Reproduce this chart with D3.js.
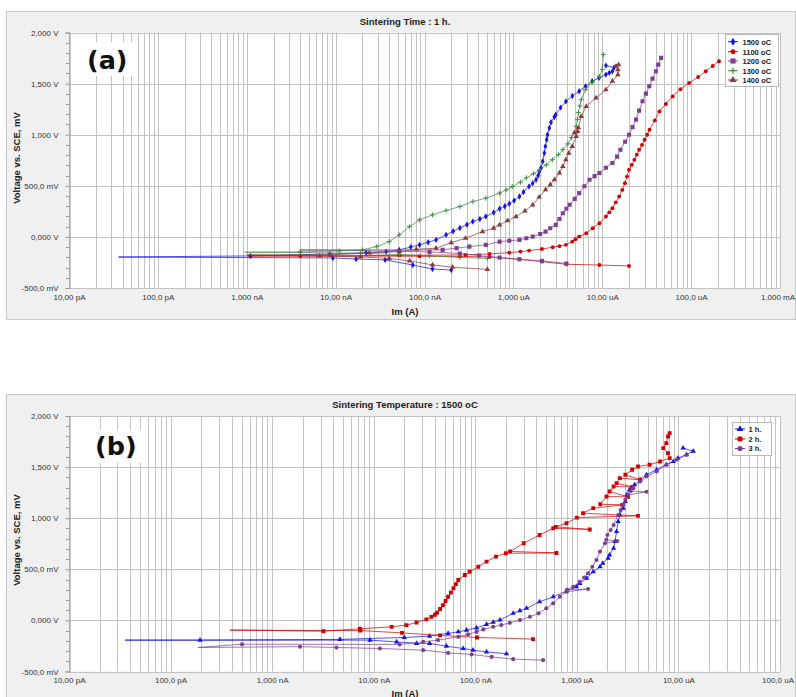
<!DOCTYPE html>
<html>
<head>
<meta charset="utf-8">
<script src="https://cdn.jsdelivr.net/npm/d3@7"></script>
<style>
  body { margin: 0; background: #fff; }
  svg { display: block; font-family: "Liberation Sans", Arial, sans-serif; }
</style>
</head>
<body>
<svg id="chart" width="796" height="697"></svg>
<script>
// ---------- axis labels ----------
const xTickLabelsA = ["10,00 pA", "100,0 pA", "1,000 nA", "10,00 nA", "100,0 nA", "1,000 uA", "10,00 uA", "100,0 uA", "1,000 mA"];
const xTickLabelsB = ["10,00 pA", "100,0 pA", "1,000 nA", "10,00 nA", "100,0 nA", "1,000 uA", "10,00 uA", "100,0 uA"];
const yTickValues = [-500, 0, 500, 1000, 1500, 2000];
const yTickLabels = ["-500,0 mV", "0,000 V", "500,0 mV", "1,000 V", "1,500 V", "2,000 V"];

// ---------- series names ----------
const namesA = ["1500 oC", "1100 oC", "1200 oC", "1300 oC", "1400 oC"];
const namesB = ["1 h.", "2 h.", "3 h."];

// ---------- polarization scans: [current (A), potential (mV)] ----------
// (a) sintering time 1 h
const a1500 = [
  [2.0e-7, -325], [1.23e-7, -314], [7.4e-8, -275], [3.6e-8, -225], [1.7e-8, -216], [9.3e-9, -206], [3.6e-11, -197],
  [1.1e-9, -186], [8.6e-9, -167], [2.2e-8, -155], [3.7e-8, -144], [5.2e-8, -127], [7.0e-8, -100], [8.8e-8, -78],
  [1.1e-7, -52], [1.35e-7, -29], [1.75e-7, 20], [2.1e-7, 55], [2.5e-7, 88], [3.0e-7, 120], [3.5e-7, 150],
  [4.2e-7, 175], [4.9e-7, 199], [6.0e-7, 238], [7.0e-7, 275], [8.0e-7, 300], [9.0e-7, 324], [1.02e-6, 355],
  [1.17e-6, 395], [1.3e-6, 440], [1.5e-6, 493], [1.65e-6, 525], [1.8e-6, 559], [1.9e-6, 600], [1.96e-6, 640],
  [2.05e-6, 674], [2.14e-6, 739], [2.23e-6, 821], [2.29e-6, 886], [2.37e-6, 951], [2.42e-6, 1000],
  [2.54e-6, 1065], [2.65e-6, 1121], [2.89e-6, 1173], [3.0e-6, 1196], [3.4e-6, 1265], [3.9e-6, 1326],
  [4.6e-6, 1378], [5.5e-6, 1425], [6.5e-6, 1475], [7.7e-6, 1523], [9.2e-6, 1556], [1.1e-5, 1588],
  [1.2e-5, 1605], [1.3e-5, 1621], [1.36e-5, 1657], [1.1e-5, 1676]
];
const a1100 = [
  [2.0e-5, -284], [9.3e-6, -275], [3.95e-6, -268], [2.1e-6, -242], [1.17e-6, -219], [5.4e-7, -196], [2.5e-7, -191],
  [8.8e-8, -189], [1.03e-9, -186],
  [4.0e-9, -186], [5.2e-8, -181], [2.9e-7, -176], [5.4e-7, -167], [9.0e-7, -154], [1.2e-6, -144], [1.5e-6, -134],
  [2.1e-6, -118], [2.77e-6, -101], [3.3e-6, -90], [3.9e-6, -78], [4.6e-6, -46], [5.0e-6, -22], [5.5e-6, 3],
  [6.6e-6, 36], [7.8e-6, 85], [9.3e-6, 134], [1.1e-5, 199], [1.2e-5, 240], [1.3e-5, 281], [1.42e-5, 338],
  [1.55e-5, 395], [1.68e-5, 460], [1.8e-5, 526], [1.9e-5, 590], [2.0e-5, 657], [2.15e-5, 705], [2.3e-5, 755],
  [2.45e-5, 805], [2.6e-5, 853], [2.8e-5, 900], [3.0e-5, 951], [3.2e-5, 1000], [3.4e-5, 1049], [3.9e-5, 1140],
  [4.4e-5, 1228], [5.2e-5, 1300], [6.2e-5, 1375], [7.6e-5, 1445], [9.5e-5, 1507], [1.2e-4, 1565],
  [1.46e-4, 1621], [1.75e-4, 1672], [2.06e-4, 1719]
];
const a1200 = [
  [3.95e-6, -260], [2.1e-6, -235], [1.17e-6, -219], [7.0e-7, -203], [4.1e-7, -183], [2.5e-7, -162], [1.14e-7, -147],
  [5.2e-8, -140], [4.0e-9, -127],
  [1.6e-7, -127], [2.3e-7, -110], [3.2e-7, -95], [4.9e-7, -78], [7.0e-7, -46], [9.0e-7, -38], [1.17e-6, -29],
  [1.4e-6, -13], [1.65e-6, 3], [2.0e-6, 28], [2.3e-6, 52], [2.6e-6, 85], [3.0e-6, 118], [3.3e-6, 175],
  [3.6e-6, 232], [3.95e-6, 275], [4.3e-6, 314], [4.9e-6, 372], [5.5e-6, 428], [6.3e-6, 495], [7.2e-6, 559],
  [8.2e-6, 595], [9.3e-6, 625], [1.1e-5, 676], [1.3e-5, 723], [1.47e-5, 785], [1.6e-5, 853], [1.81e-5, 931],
  [2.0e-5, 1000], [2.19e-5, 1074], [2.4e-5, 1147], [2.6e-5, 1235], [2.84e-5, 1327], [3.1e-5, 1402],
  [3.38e-5, 1474], [3.68e-5, 1549], [4.02e-5, 1621], [4.27e-5, 1686], [4.6e-5, 1752]
];
const a1300 = [
  [5.1e-7, -211], [2.5e-7, -201], [1.14e-7, -186], [5.2e-8, -172], [1.9e-8, -162], [4.0e-9, -152], [9.5e-10, -150],
  [4.0e-9, -147], [1.1e-8, -137], [2.0e-8, -127], [2.9e-8, -95], [4.0e-8, -46], [5.2e-8, 20], [6.8e-8, 101],
  [8.8e-8, 167], [1.23e-7, 216], [1.75e-7, 258], [2.5e-7, 297], [3.5e-7, 346], [4.9e-7, 379], [7.0e-7, 428],
  [8.3e-7, 460], [9.7e-7, 493], [1.2e-6, 535], [1.4e-6, 578], [1.68e-6, 618], [1.96e-6, 657], [2.35e-6, 705],
  [2.75e-6, 755], [3.2e-6, 805], [3.6e-6, 853], [4.1e-6, 910], [4.5e-6, 971], [5.1e-6, 1081], [5.25e-6, 1150],
  [5.4e-6, 1216], [5.6e-6, 1280], [5.8e-6, 1343], [6.5e-6, 1441], [7.7e-6, 1510], [9.3e-6, 1569],
  [1.0e-5, 1637], [1.03e-5, 1784]
];
const a1400 = [
  [5.1e-7, -317], [2.07e-7, -297], [1.23e-7, -274], [6.8e-8, -235], [4.0e-8, -211], [1.9e-8, -196], [6.6e-9, -186],
  [1.0e-9, -176],
  [8.6e-9, -176], [2.4e-8, -157], [5.2e-8, -144], [8.1e-8, -121], [1.35e-7, -111], [2.0e-7, -56], [2.9e-7, -13],
  [4.5e-7, 52], [6.0e-7, 85], [7.0e-7, 118], [8.6e-7, 158], [1.07e-6, 199], [1.35e-6, 255], [1.65e-6, 314],
  [1.95e-6, 390], [2.3e-6, 461], [2.6e-6, 510], [2.9e-6, 559], [3.3e-6, 625], [3.6e-6, 690], [3.9e-6, 755],
  [4.2e-6, 820], [4.6e-6, 885], [5.1e-6, 983], [5.3e-6, 1032], [4.85e-6, 1017], [5.4e-6, 1069], [5.8e-6, 1179],
  [6.6e-6, 1277], [8.5e-6, 1360], [1.1e-5, 1441], [1.3e-5, 1523], [1.5e-5, 1588], [1.5e-5, 1637],
  [1.43e-5, 1670], [1.53e-5, 1686]
];

// (b) sintering temperature 1500 oC
const b1h = [
  [2.03e-7, -326], [1.29e-7, -308], [9.5e-8, -291], [7.6e-8, -275], [5.2e-8, -252], [3.55e-8, -225], [2.64e-8, -225],
  [1.68e-8, -210], [9.2e-9, -193], [3.56e-11, -193],
  [1.95e-10, -193], [4.65e-9, -186], [2.0e-8, -167], [3.55e-8, -154], [5.4e-8, -127], [6.8e-8, -112], [8.2e-8, -95],
  [1.03e-7, -73], [1.29e-7, -39], [1.5e-7, -18], [1.75e-7, 3], [2.36e-7, 69], [2.75e-7, 95], [3.2e-7, 118],
  [4.3e-7, 182], [5.85e-7, 231], [7.9e-7, 287], [9.9e-7, 329], [1.07e-6, 362], [1.25e-6, 412], [1.45e-6, 476],
  [1.69e-6, 525], [1.8e-6, 559], [2.03e-6, 608], [2.1e-6, 640], [2.3e-6, 706], [2.37e-6, 771], [2.46e-6, 869],
  [2.55e-6, 967], [2.65e-6, 1032], [2.86e-6, 1098], [3.0e-6, 1163], [3.1e-6, 1228], [3.3e-6, 1278],
  [3.7e-6, 1327], [4.2e-6, 1376], [4.85e-6, 1425], [6.1e-6, 1474], [7.6e-6, 1523], [8.9e-6, 1555],
  [9.9e-6, 1588], [1.2e-5, 1621], [1.4e-5, 1655], [1.11e-5, 1686]
];
const b2h = [
  [3.7e-7, -183], [1.04e-7, -167], [4.5e-8, -147], [1.9e-8, -122], [7.4e-9, -100], [3.84e-10, -95],
  [3.2e-9, -105], [7.3e-9, -82], [1.5e-8, -63], [2.1e-8, -46], [2.64e-8, -20], [3.3e-8, 10], [3.7e-8, 35],
  [4.0e-8, 55], [4.2e-8, 75], [4.5e-8, 112], [4.8e-8, 150], [5.1e-8, 190], [5.4e-8, 231], [5.75e-8, 272],
  [6.1e-8, 314], [6.45e-8, 355], [6.8e-8, 395], [7.9e-8, 444], [8.8e-8, 476], [1.07e-7, 525], [1.29e-7, 575],
  [1.6e-7, 624], [2.0e-7, 657], [6.3e-7, 660], [2.2e-7, 675], [3.0e-7, 755], [4.3e-7, 836], [5.85e-7, 902],
  [1.34e-6, 890], [6.2e-7, 915], [7.9e-7, 951], [1.0e-6, 1006], [4.0e-6, 1023], [1.15e-6, 1049],
  [1.45e-6, 1098], [2.8e-6, 1130], [1.7e-6, 1137], [1.96e-6, 1212], [3.2e-6, 1209], [2.1e-6, 1261],
  [2.3e-6, 1310], [3.5e-6, 1307], [2.46e-6, 1343], [2.65e-6, 1392], [4.2e-6, 1376], [3.0e-6, 1425],
  [3.5e-6, 1474], [4.0e-6, 1506], [5.2e-6, 1523], [6.6e-6, 1555], [8.2e-6, 1588], [7.9e-6, 1637],
  [7.1e-6, 1686], [7.6e-6, 1735], [7.9e-6, 1800], [8.2e-6, 1833]
];
const b3h = [
  [4.66e-7, -389], [2.36e-7, -379], [1.45e-7, -357], [9.2e-8, -333], [5.4e-8, -318], [3.07e-8, -291], [1.15e-8, -275],
  [4.3e-9, -265], [1.88e-9, -257], [1.87e-10, -265],
  [5.05e-10, -233], [1.8e-8, -235], [3.07e-8, -210], [4.3e-8, -193], [6.8e-8, -161], [8.5e-8, -137], [1.03e-7, -112],
  [1.2e-7, -88], [1.5e-7, -63], [1.8e-7, -46], [2.19e-7, -24], [2.75e-7, 3], [3.45e-7, 35], [4.2e-7, 69],
  [5.0e-7, 118], [5.85e-7, 167], [6.8e-7, 231], [7.9e-7, 280], [1.29e-6, 307], [8.0e-7, 300], [9.2e-7, 329],
  [1.07e-6, 378], [1.18e-6, 420], [1.29e-6, 461], [1.42e-6, 525], [1.56e-6, 591], [1.69e-6, 673], [1.89e-6, 755],
  [2.5e-6, 777], [1.95e-6, 790], [2.0e-6, 836], [2.15e-6, 885], [2.3e-6, 934], [2.55e-6, 1032], [2.7e-6, 1080],
  [2.86e-6, 1130], [3.0e-6, 1180], [3.2e-6, 1228], [4.85e-6, 1258], [3.4e-6, 1265], [3.6e-6, 1294],
  [4.2e-6, 1359], [4.85e-6, 1408], [6.1e-6, 1457], [7.6e-6, 1523], [9.6e-6, 1572], [1.2e-5, 1621]
];

// ---------- marker shapes ----------
const shapes = {
  diamond: d3.symbol().type(d3.symbolDiamond).size(12)(),
  circle: d3.symbol().type(d3.symbolCircle).size(12)(),
  square: d3.symbol().type(d3.symbolSquare).size(17)(),
  triangle: d3.symbol().type(d3.symbolTriangle).size(13)(),
  plus: "M-2.5,0H2.5M0,-2.5V2.5",
  squareB: d3.symbol().type(d3.symbolSquare).size(15)(),
  circleB: d3.symbol().type(d3.symbolCircle).size(13)(),
  triangleB: d3.symbol().type(d3.symbolTriangle).size(12)()
};

const panels = [
  {
    frameTop: 11, frameH: 308, plotTop: 32.5, plotBottom: 288,
    xDomain: [1e-11, 1e-3], xLabels: xTickLabelsA,
    title: "Sintering Time : 1 h.", titleY: 24.5, axisTitleY: 314.5, yTitleY: 158,
    tag: "(a)", tagX: 87, tagY: 68.5, tagBox: [80, 42, 55, 34],
    legend: { x: 725.5, y: 34.5, w: 53, h: 52, rowY: [41.7, 51.7, 61, 70.7, 80], lx: 728, mx: 733, tx: 742.5 },
    series: [
      { name: namesA[0], data: a1500, color: "#1414e6", shape: "diamond" },
      { name: namesA[1], data: a1100, color: "#d40000", shape: "circle" },
      { name: namesA[2], data: a1200, color: "#7e3e94", shape: "square" },
      { name: namesA[3], data: a1300, color: "#3f8f3f", shape: "plus" },
      { name: namesA[4], data: a1400, color: "#8b3a3a", shape: "triangle" }
    ]
  },
  {
    frameTop: 394, frameH: 320, plotTop: 416, plotBottom: 671.5,
    xDomain: [1e-11, 1e-4], xLabels: xTickLabelsB,
    title: "Sintering Temperature : 1500 oC", titleY: 407.5, axisTitleY: 696.5, yTitleY: 540,
    tag: "(b)", tagX: 95, tagY: 454.5, tagBox: [89, 430, 54, 33],
    legend: { x: 732.5, y: 422.5, w: 39, h: 33, rowY: [429, 439, 448.5], lx: 735, mx: 740, tx: 748.5 },
    series: [
      { name: namesB[0], data: b1h, color: "#1212e8", shape: "triangleB" },
      { name: namesB[1], data: b2h, color: "#d00000", shape: "squareB" },
      { name: namesB[2], data: b3h, color: "#7e3e90", shape: "circleB" }
    ]
  }
];

const svg = d3.select("#chart");
const crisp = v => Math.round(v) + 0.5;

panels.forEach((p, pi) => {
  const g = svg.append("g");
  const x = d3.scaleLog().domain(p.xDomain).range([69, 780]);
  const y = d3.scaleLinear().domain([-500, 2000]).range([p.plotBottom, p.plotTop]);

  // outer frame
  g.append("rect")
    .attr("x", 6.5).attr("y", p.frameTop + 0.5)
    .attr("width", 789).attr("height", p.frameH)
    .attr("fill", "#f0f0f0").attr("stroke", "#c8c8c8");

  // plotting area
  g.append("rect")
    .attr("x", 69).attr("y", p.plotTop)
    .attr("width", 711).attr("height", p.plotBottom - p.plotTop)
    .attr("fill", "#fff");

  // vertical grid (decades and their 2..9 multiples)
  const e0 = Math.round(Math.log10(p.xDomain[0])), e1 = Math.round(Math.log10(p.xDomain[1]));
  const gridX = [];
  for (let e = e0; e < e1; e++) for (let k = 1; k < 10; k++) gridX.push(k * Math.pow(10, e));
  gridX.push(p.xDomain[1]);
  g.append("g").selectAll("line").data(gridX).join("line")
    .attr("x1", d => crisp(x(d))).attr("x2", d => crisp(x(d)))
    .attr("y1", p.plotTop).attr("y2", p.plotBottom)
    .attr("stroke", "#c2c2c2").attr("stroke-width", 1);

  // horizontal grid
  g.append("g").selectAll("line").data(yTickValues).join("line")
    .attr("x1", 69).attr("x2", 780)
    .attr("y1", d => crisp(y(d))).attr("y2", d => crisp(y(d)))
    .attr("stroke", "#c2c2c2").attr("stroke-width", 1);

  // y axis with major labels
  const yAxis = d3.axisLeft(y)
    .tickValues(yTickValues)
    .tickFormat((d, i) => yTickLabels[i])
    .tickSize(4).tickPadding(7);
  const ya = g.append("g").attr("transform", "translate(69.5,0)").call(yAxis);
  ya.select(".domain").attr("stroke", "#9a9a9a");
  ya.selectAll(".tick line").attr("stroke", "#9a9a9a");
  ya.selectAll("text").attr("font-size", 8).attr("fill", "#333").attr("font-family", "Liberation Sans, Arial, sans-serif");

  // minor y ticks every 100 mV
  const minorY = d3.range(-500, 2001, 100).filter(v => v % 500 !== 0);
  g.append("g").selectAll("line").data(minorY).join("line")
    .attr("x1", 66).attr("x2", 69)
    .attr("y1", d => crisp(y(d))).attr("y2", d => crisp(y(d)))
    .attr("stroke", "#9a9a9a");

  // x axis labels at decades
  const decades = d3.range(e0, e1 + 1).map(e => Math.pow(10, e));
  const xAxis = d3.axisBottom(x)
    .tickValues(decades)
    .tickFormat((d, i) => p.xLabels[i])
    .tickSize(0).tickPadding(6);
  const xa = g.append("g").attr("transform", `translate(0,${p.plotBottom})`).call(xAxis);
  xa.select(".domain").remove();
  xa.selectAll("text").attr("font-size", 8).attr("fill", "#333").attr("font-family", "Liberation Sans, Arial, sans-serif");
  // keep the last label inside the frame edge
  xa.selectAll(".tick:last-of-type text").attr("dx", -2.5);

  // titles
  g.append("text").attr("x", 405).attr("y", p.titleY)
    .attr("text-anchor", "middle").attr("font-size", 9.5).attr("font-weight", "bold").attr("fill", "#222")
    .text(p.title);
  g.append("text").attr("x", 405).attr("y", p.axisTitleY)
    .attr("text-anchor", "middle").attr("font-size", 9.5).attr("font-weight", "bold").attr("fill", "#222")
    .text("Im (A)");
  g.append("text")
    .attr("transform", `translate(19.5,${p.yTitleY}) rotate(-90)`)
    .attr("text-anchor", "middle").attr("font-size", 9.5).attr("font-weight", "bold").attr("fill", "#222")
    .text("Voltage vs. SCE, mV");

  // panel tag
  g.append("rect").attr("x", p.tagBox[0]).attr("y", p.tagBox[1])
    .attr("width", p.tagBox[2]).attr("height", p.tagBox[3]).attr("fill", "#fff");
  g.append("text").attr("x", p.tagX).attr("y", p.tagY)
    .attr("font-family", "DejaVu Sans, Verdana, sans-serif")
    .attr("font-size", 25.5).attr("font-weight", "bold").attr("fill", "#111")
    .text(p.tag);

  // curves
  const clipId = "clip" + pi;
  svg.append("clipPath").attr("id", clipId).append("rect")
    .attr("x", 69).attr("y", p.plotTop).attr("width", 711).attr("height", p.plotBottom - p.plotTop);
  const plot = g.append("g").attr("clip-path", `url(#${clipId})`);
  const line = d3.line().x(d => x(d[0])).y(d => y(d[1]));

  p.series.forEach(s => {
    const sg = plot.append("g");
    sg.append("path").attr("d", line(s.data))
      .attr("fill", "none").attr("stroke", s.color)
      .attr("stroke-width", 1).attr("stroke-opacity", 0.72);
    const skip = d3.minIndex(s.data, d => d[0]);
    const pts = s.data.filter((d, i) => i !== skip);
    const isStroke = s.shape === "plus";
    sg.selectAll("path.m").data(pts).join("path").attr("class", "m")
      .attr("transform", d => `translate(${x(d[0])},${y(d[1])})`)
      .attr("d", shapes[s.shape])
      .attr("fill", isStroke ? "none" : s.color)
      .attr("stroke", isStroke ? s.color : "none")
      .attr("stroke-width", 1);
  });

  // legend
  const L = p.legend;
  const lg = g.append("g");
  lg.append("rect").attr("x", L.x).attr("y", L.y).attr("width", L.w).attr("height", L.h)
    .attr("fill", "#fff").attr("stroke", "#b8b8b8");
  p.series.forEach((s, i) => {
    const ry = L.rowY[i];
    lg.append("line").attr("x1", L.lx).attr("x2", L.lx + 10).attr("y1", ry).attr("y2", ry)
      .attr("stroke", s.color).attr("stroke-width", 1);
    const isStroke = s.shape === "plus";
    lg.append("path").attr("transform", `translate(${L.mx},${ry}) scale(1.25)`)
      .attr("d", shapes[s.shape])
      .attr("fill", isStroke ? "none" : s.color)
      .attr("stroke", isStroke ? s.color : "none");
    lg.append("text").attr("x", L.tx).attr("y", ry + 2.8)
      .attr("font-size", 7.5).attr("font-weight", "bold").attr("fill", "#222")
      .text(s.name);
  });
});
</script>
</body>
</html>
